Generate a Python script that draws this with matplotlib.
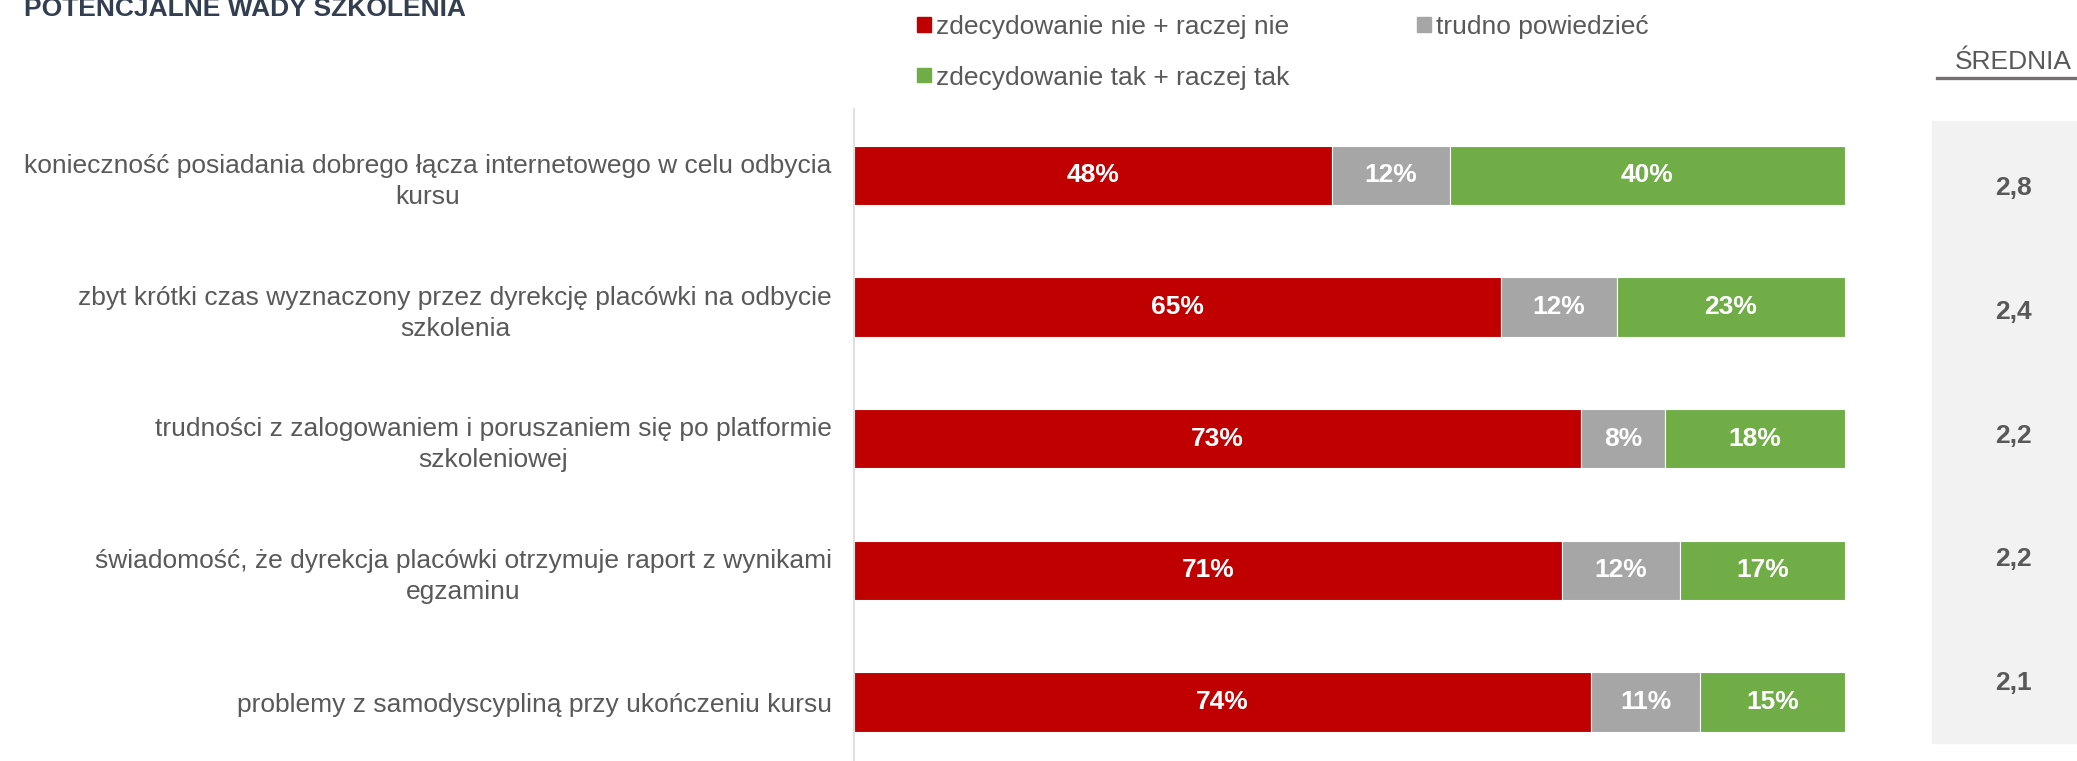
import matplotlib
matplotlib.use("Agg")
import matplotlib.pyplot as plt
from matplotlib.patches import Rectangle
from matplotlib.lines import Line2D

plt.rcParams['font.family'] = ['Liberation Sans', 'DejaVu Sans']

# ---------------- data ----------------
title = "POTENCJALNE WADY SZKOLENIA"
categories = [
    "konieczność posiadania dobrego łącza internetowego w celu odbycia\nkursu",
    "zbyt krótki czas wyznaczony przez dyrekcję placówki na odbycie\nszkolenia",
    "trudności z zalogowaniem i poruszaniem się po platformie\nszkoleniowej",
    "świadomość, że dyrekcja placówki otrzymuje raport z wynikami\negzaminu",
    "problemy z samodyscypliną przy ukończeniu kursu",
]
series_names = ["zdecydowanie nie + raczej nie", "trudno powiedzieć",
                "zdecydowanie tak + raczej tak"]
nie = [48.2, 65.3, 73.4, 71.4, 74.4]
trudno = [11.9, 11.7, 8.4, 12.0, 11.0]
tak = [39.9, 23.0, 18.2, 16.6, 14.6]
means = [2.8, 2.4, 2.2, 2.2, 2.1]
mean_header = "ŚREDNIA"

colors = ["#C00000", "#A6A6A6", "#70AD47"]
text_grey = "#595959"

W, H = 2077, 761
fig = plt.figure(figsize=(W / 100, H / 100), dpi=100)

def fx(px):
    return px / W

def fy(py):
    return 1 - py / H

ax = fig.add_axes([fx(854), 0, fx(1845) - fx(854), fy(109)])

series = [nie, trudno, tak]
ypos = list(range(len(categories)))
left = [0.0] * len(categories)
for vals, col in zip(series, colors):
    bars = ax.barh(ypos, vals, left=left, height=0.45, color=col,
                   edgecolor="white", linewidth=0.8)
    for b, v in zip(bars, vals):
        ax.text(b.get_x() + b.get_width() / 2, b.get_y() + b.get_height() / 2,
                f"{round(v):d}%", ha="center", va="center", color="white",
                fontsize=19, fontweight="bold")
    left = [l + v for l, v in zip(left, vals)]

ax.set_xlim(0, 100)
ax.set_ylim(4.448, -0.505)
ax.set_xticks([])
ax.set_yticks(ypos)
ax.set_yticklabels(categories, fontsize=19, color=text_grey)
for lab in ax.get_yticklabels():
    lab.set_multialignment("center")
    lab.set_linespacing(1.38)
ax.tick_params(axis="y", length=0, pad=16)
for s in ["top", "right", "bottom"]:
    ax.spines[s].set_visible(False)
ax.spines["left"].set_color("#D9D9D9")
ax.spines["left"].set_linewidth(1.2)

# title
fig.text(fx(24), fy(16), title, fontsize=19, fontweight="bold",
         color="#333F50", ha="left", va="baseline")

# legend (manual layout)
leg_pos = [(917, 24.5), (1417, 24.5), (917, 75)]
for (px, py), name, col in zip(leg_pos, series_names, colors):
    fig.patches.append(Rectangle((fx(px), fy(py + 7)), fx(14), 14 / H,
                                 transform=fig.transFigure, color=col))
    fig.text(fx(px + 19), fy(py), name, fontsize=19, color=text_grey,
             ha="left", va="center_baseline")

# mean panel
fig.patches.append(Rectangle((fx(1932), fy(743)), fx(W - 1932), (743 - 121) / H,
                             transform=fig.transFigure, color="#F2F2F2", zorder=0))
fig.text(fx(2013), fy(62), mean_header, fontsize=19, color=text_grey,
         ha="center", va="center")
fig.lines.append(Line2D([fx(1937), fx(W)], [fy(78), fy(78)],
                        transform=fig.transFigure, color="#767171", lw=2.4))
for i, m in enumerate(means):
    fig.text(fx(2013), fy(188 + i * 123.8), f"{m:.1f}".replace(".", ","),
             fontsize=19, fontweight="bold", color=text_grey,
             ha="center", va="center")

fig.savefig("out.png", dpi=100)
